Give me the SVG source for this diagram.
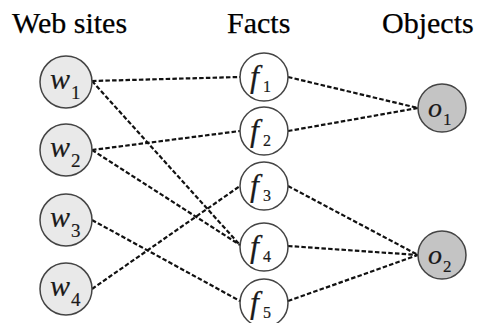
<svg xmlns="http://www.w3.org/2000/svg" width="478" height="323" viewBox="0 0 478 323">
<style>
.title{font-family:'Liberation Serif','Times New Roman',Tinos,'DejaVu Serif',serif;font-size:30px;fill:#000;stroke:#000;stroke-width:0.25}
.node circle{stroke:#444;stroke-width:1.5}
.w circle{fill:#e9e9e9}
.f circle{fill:#fff}
.o circle{fill:#c4c4c4}
.lbl{font-family:'Liberation Serif','Times New Roman',Tinos,'DejaVu Serif',serif;fill:#1a1a1a;stroke:#1a1a1a;stroke-width:0.2}
.var{font-style:italic}
.sub{font-style:normal}
.edges line{stroke:#111;stroke-width:2.2;stroke-dasharray:4.5 2.2;fill:none}
</style>
<rect width="478" height="323" fill="#fff"/>
<text class="title" x="12" y="33">Web sites</text>
<text class="title" x="227" y="33">Facts</text>
<text class="title" x="382" y="33">Objects</text>
<g id="connectors" class="edges">
<line x1="92" y1="81" x2="240" y2="77"/>
<line x1="92" y1="81" x2="240" y2="245"/>
<line x1="92" y1="150" x2="240" y2="131"/>
<line x1="92" y1="150" x2="240" y2="245"/>
<line x1="92" y1="220" x2="240" y2="301"/>
<line x1="92" y1="289" x2="240" y2="186"/>
<line x1="288" y1="77" x2="418" y2="108"/>
<line x1="288" y1="131" x2="418" y2="108"/>
<line x1="288" y1="186" x2="418" y2="255"/>
<line x1="288" y1="246" x2="418" y2="255"/>
<line x1="288" y1="301" x2="418" y2="255"/>
</g>
<g id="w1" class="node w"><circle cx="66" cy="82" r="26"/><text class="lbl"><tspan class="var" x="50" y="89" font-size="30">w</tspan><tspan class="sub" x="71" y="99" font-size="19">1</tspan></text></g>
<g id="w2" class="node w"><circle cx="66" cy="150" r="26"/><text class="lbl"><tspan class="var" x="50" y="157" font-size="30">w</tspan><tspan class="sub" x="71" y="167" font-size="19">2</tspan></text></g>
<g id="w3" class="node w"><circle cx="66" cy="220" r="26"/><text class="lbl"><tspan class="var" x="50" y="227" font-size="30">w</tspan><tspan class="sub" x="71" y="237" font-size="19">3</tspan></text></g>
<g id="w4" class="node w"><circle cx="66" cy="289" r="26"/><text class="lbl"><tspan class="var" x="50" y="296" font-size="30">w</tspan><tspan class="sub" x="71" y="306" font-size="19">4</tspan></text></g>
<g id="f1" class="node f"><circle cx="264" cy="77" r="24"/><text class="lbl"><tspan class="var" x="250" y="87" font-size="32">f</tspan><tspan class="sub" x="263" y="92" font-size="16">1</tspan></text></g>
<g id="f2" class="node f"><circle cx="264" cy="131" r="24"/><text class="lbl"><tspan class="var" x="250" y="141" font-size="32">f</tspan><tspan class="sub" x="263" y="146" font-size="16">2</tspan></text></g>
<g id="f3" class="node f"><circle cx="264" cy="186" r="24"/><text class="lbl"><tspan class="var" x="250" y="196" font-size="32">f</tspan><tspan class="sub" x="263" y="201" font-size="16">3</tspan></text></g>
<g id="f4" class="node f"><circle cx="264" cy="247" r="24"/><text class="lbl"><tspan class="var" x="250" y="257" font-size="32">f</tspan><tspan class="sub" x="263" y="262" font-size="16">4</tspan></text></g>
<g id="f5" class="node f"><circle cx="264" cy="303" r="24"/><text class="lbl"><tspan class="var" x="250" y="313" font-size="32">f</tspan><tspan class="sub" x="263" y="318" font-size="16">5</tspan></text></g>
<g id="o1" class="node o"><circle cx="442" cy="108" r="24"/><text class="lbl"><tspan class="var" x="428" y="117" font-size="28">o</tspan><tspan class="sub" x="443" y="125" font-size="17">1</tspan></text></g>
<g id="o2" class="node o"><circle cx="442" cy="255" r="24"/><text class="lbl"><tspan class="var" x="428" y="264" font-size="28">o</tspan><tspan class="sub" x="443" y="272" font-size="17">2</tspan></text></g>
</svg>
